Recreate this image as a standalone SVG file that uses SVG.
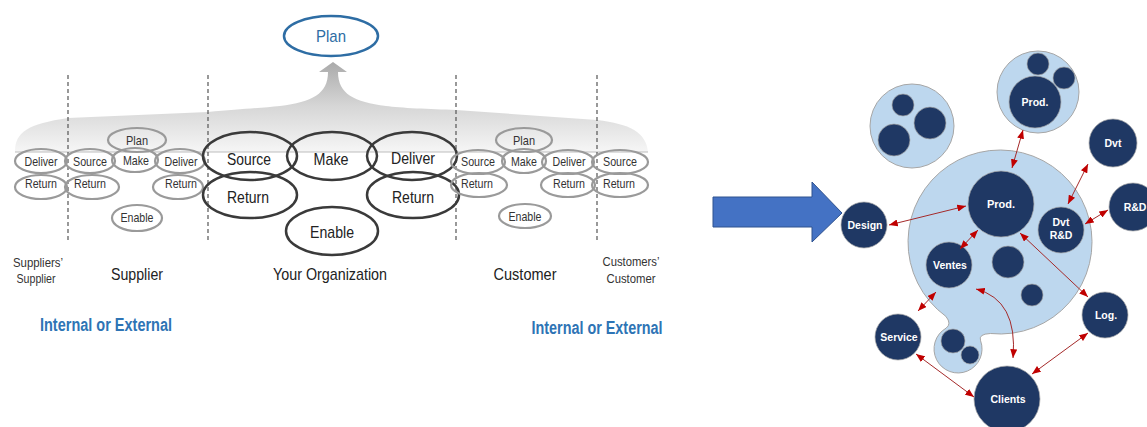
<svg xmlns="http://www.w3.org/2000/svg" width="1147" height="427" viewBox="0 0 1147 427">
<defs>
<linearGradient id="band" gradientUnits="userSpaceOnUse" x1="0" y1="60" x2="0" y2="152">
<stop offset="0" stop-color="#a8a8a8"/>
<stop offset="0.5" stop-color="#d6d6d6"/>
<stop offset="1" stop-color="#f6f6f6"/>
</linearGradient>
<marker id="ah" viewBox="0 0 10 8" refX="10" refY="4" markerWidth="9" markerHeight="7" markerUnits="userSpaceOnUse" orient="auto-start-reverse">
<path d="M0,0 L10,4 L0,8 Z" fill="#c00000"/>
</marker>
</defs>
<style>
.g{fill:none;stroke:#9a9a9a;stroke-width:2.2}
.k{fill:none;stroke:#3a3a3a;stroke-width:2.5}
.ts{font-family:"Liberation Sans Narrow","Liberation Sans",Arial,sans-serif;font-size:13px;fill:#333;text-anchor:middle}
.tb{font-family:"Liberation Sans Narrow","Liberation Sans",Arial,sans-serif;font-size:17px;fill:#222;text-anchor:middle}
.blue{font-family:"Liberation Sans Narrow","Liberation Sans",Arial,sans-serif;font-size:17.5px;font-weight:bold;fill:#2e74b5;text-anchor:middle}
.dash{stroke:#555;stroke-dasharray:4 3;stroke-width:1.2}
.lc{fill:#bdd7ee;stroke:#a6a6a6;stroke-width:1}
.dc{fill:#1f3864;stroke:#a6a6a6;stroke-width:0.7}
.ct{font-family:"Liberation Sans",Arial,sans-serif;font-weight:bold;font-size:10.5px;fill:#fff;text-anchor:middle}
.cn{fill:none;stroke:#a52a2a;stroke-width:1;marker-start:url(#ah);marker-end:url(#ah)}
</style>
<rect width="1147" height="427" fill="#fff"/>

<!-- gray band with upward arrow -->
<path d="M15,152 C15,132 28,124 68,118 L208,112 C240,109 262,108 280,106 C312,102 328,94 328,72 L319,72 L333,62 L347,72 L338,72 C338,94 354,102 386,106 C400,108 430,109 456,110 L597,120 C630,124 646,132 648,152 Z" fill="url(#band)"/>
<line x1="15" y1="152" x2="648" y2="152" stroke="#bdbdbd" stroke-width="1"/>

<!-- dashed separators -->
<g id="separators">
<line class="dash" x1="68" y1="75" x2="68" y2="240"/>
<line class="dash" x1="208" y1="75" x2="208" y2="240"/>
<line class="dash" x1="456" y1="75" x2="456" y2="240"/>
<line class="dash" x1="597" y1="75" x2="597" y2="240"/>
</g>

<g id="plan-top">
<ellipse cx="331" cy="36" rx="47" ry="20" fill="#fff" stroke="#2e6da4" stroke-width="2.5"/>
<text x="331" y="42" class="tb" style="fill:#2e6da4" textLength="30" lengthAdjust="spacingAndGlyphs">Plan</text>
</g>

<!-- Supplier side -->
<g id="ss-deliver"><ellipse class="g" cx="41" cy="161" rx="26" ry="12"/><text class="ts" x="41" y="166" textLength="33" lengthAdjust="spacingAndGlyphs">Deliver</text></g>
<g id="ss-return"><ellipse class="g" cx="41" cy="187" rx="26" ry="12"/><text class="ts" x="41" y="188" textLength="32" lengthAdjust="spacingAndGlyphs">Return</text></g>
<g id="s-plan"><ellipse class="g" cx="137" cy="140" rx="29" ry="12"/><text class="ts" x="137" y="145" textLength="22" lengthAdjust="spacingAndGlyphs">Plan</text></g>
<g id="s-source"><ellipse class="g" cx="90" cy="161" rx="25" ry="12"/><text class="ts" x="90" y="166" textLength="34" lengthAdjust="spacingAndGlyphs">Source</text></g>
<g id="s-make"><ellipse class="g" cx="135" cy="160" rx="23" ry="12"/><text class="ts" x="136" y="165" textLength="26" lengthAdjust="spacingAndGlyphs">Make</text></g>
<g id="s-deliver"><ellipse class="g" cx="180" cy="161" rx="25" ry="12"/><text class="ts" x="181" y="166" textLength="33" lengthAdjust="spacingAndGlyphs">Deliver</text></g>
<g id="s-return1"><ellipse class="g" cx="92" cy="187" rx="27" ry="12"/><text class="ts" x="90" y="188" textLength="32" lengthAdjust="spacingAndGlyphs">Return</text></g>
<g id="s-return2"><ellipse class="g" cx="178" cy="187" rx="25" ry="12"/><text class="ts" x="181" y="188" textLength="32" lengthAdjust="spacingAndGlyphs">Return</text></g>
<g id="s-enable"><ellipse class="g" cx="137" cy="218" rx="25" ry="13"/><text class="ts" x="137" y="222" textLength="33" lengthAdjust="spacingAndGlyphs">Enable</text></g>

<!-- Your organization -->
<g id="o-source"><ellipse class="k" cx="250" cy="156" rx="47" ry="24"/><text class="tb" x="249" y="165" textLength="44" lengthAdjust="spacingAndGlyphs">Source</text></g>
<g id="o-make"><ellipse class="k" cx="332" cy="156" rx="45" ry="24"/><text class="tb" x="331" y="165" textLength="35" lengthAdjust="spacingAndGlyphs">Make</text></g>
<g id="o-deliver"><ellipse class="k" cx="412" cy="156" rx="45" ry="24"/><text class="tb" x="413" y="164" textLength="44" lengthAdjust="spacingAndGlyphs">Deliver</text></g>
<g id="o-return1"><ellipse class="k" cx="250" cy="195" rx="47" ry="23"/><text class="tb" x="248" y="203" textLength="42" lengthAdjust="spacingAndGlyphs">Return</text></g>
<g id="o-return2"><ellipse class="k" cx="413" cy="195" rx="46" ry="23"/><text class="tb" x="413" y="203" textLength="42" lengthAdjust="spacingAndGlyphs">Return</text></g>
<g id="o-enable"><ellipse class="k" cx="332" cy="231" rx="46" ry="24"/><text class="tb" x="332" y="238" textLength="44" lengthAdjust="spacingAndGlyphs">Enable</text></g>

<!-- Customer side -->
<g id="c-plan"><ellipse class="g" cx="524" cy="140" rx="28" ry="12"/><text class="ts" x="524" y="145" textLength="22" lengthAdjust="spacingAndGlyphs">Plan</text></g>
<g id="c-source"><ellipse class="g" cx="478" cy="162" rx="27" ry="12"/><text class="ts" x="478" y="166" textLength="34" lengthAdjust="spacingAndGlyphs">Source</text></g>
<g id="c-make"><ellipse class="g" cx="524" cy="161" rx="22" ry="12"/><text class="ts" x="524" y="166" textLength="26" lengthAdjust="spacingAndGlyphs">Make</text></g>
<g id="c-deliver"><ellipse class="g" cx="568" cy="162" rx="26" ry="12"/><text class="ts" x="569" y="166" textLength="33" lengthAdjust="spacingAndGlyphs">Deliver</text></g>
<g id="c-return1"><ellipse class="g" cx="479" cy="185" rx="28" ry="12"/><text class="ts" x="477" y="188" textLength="32" lengthAdjust="spacingAndGlyphs">Return</text></g>
<g id="c-return2"><ellipse class="g" cx="568" cy="185" rx="27" ry="12"/><text class="ts" x="569" y="188" textLength="32" lengthAdjust="spacingAndGlyphs">Return</text></g>
<g id="c-enable"><ellipse class="g" cx="525" cy="216" rx="26" ry="12"/><text class="ts" x="525" y="221" textLength="33" lengthAdjust="spacingAndGlyphs">Enable</text></g>
<g id="cc-source"><ellipse class="g" cx="620" cy="162" rx="28" ry="12"/><text class="ts" x="620" y="166" textLength="34" lengthAdjust="spacingAndGlyphs">Source</text></g>
<g id="cc-return"><ellipse class="g" cx="620" cy="185" rx="28" ry="12"/><text class="ts" x="619" y="188" textLength="32" lengthAdjust="spacingAndGlyphs">Return</text></g>

<!-- labels -->
<g id="labels">
<text class="ts" x="38" y="267" textLength="50" lengthAdjust="spacingAndGlyphs">Suppliers’</text>
<text class="ts" x="36" y="283" textLength="39" lengthAdjust="spacingAndGlyphs">Supplier</text>
<text class="tb" x="137" y="280" textLength="52" lengthAdjust="spacingAndGlyphs">Supplier</text>
<text class="tb" x="330" y="280" textLength="114" lengthAdjust="spacingAndGlyphs">Your Organization</text>
<text class="tb" x="525" y="280" textLength="63" lengthAdjust="spacingAndGlyphs">Customer</text>
<text class="ts" x="631" y="266" textLength="57" lengthAdjust="spacingAndGlyphs">Customers’</text>
<text class="ts" x="631" y="283" textLength="49" lengthAdjust="spacingAndGlyphs">Customer</text>
<text class="blue" x="106" y="331" textLength="132" lengthAdjust="spacingAndGlyphs">Internal or External</text>
<text class="blue" x="597" y="334" textLength="131" lengthAdjust="spacingAndGlyphs">Internal or External</text>
</g>

<!-- blue arrow -->
<g id="big-arrow">
<path d="M713,197 L812,197 L812,182 L842,213 L812,242 L812,227 L713,227 Z" fill="#4472c4" stroke="#2f528f" stroke-width="1"/>
</g>

<!-- right side -->
<g id="cluster-main">
<path class="lc" d="M945.9,316.4 A92,92 0 1 1 990.4,333.5 Q978,334 980.6,340.8 A24,24 0 1 1 946,328.2 Q952,324 945.9,316.4 Z"/>
<circle class="dc" cx="953" cy="341" r="12"/>
<circle class="dc" cx="970" cy="355" r="9"/>
<circle class="dc" cx="1008" cy="262" r="16"/>
<circle class="dc" cx="1032" cy="295" r="11"/>
</g>
<g id="cluster-left">
<circle class="lc" cx="912" cy="126" r="42"/>
<circle class="dc" cx="903" cy="105" r="11"/>
<circle class="dc" cx="930" cy="123" r="16"/>
<circle class="dc" cx="894" cy="140" r="16"/>
</g>
<g id="cluster-top">
<circle class="lc" cx="1038" cy="92" r="41"/>
<circle class="dc" cx="1038" cy="64" r="11"/>
<circle class="dc" cx="1064" cy="78" r="11"/>
<circle class="dc" cx="1035" cy="102" r="26"/>
<text class="ct" x="1035" y="106">Prod.</text>
</g>
<g id="prod"><circle class="dc" cx="1001" cy="204" r="33"/><text class="ct" x="1001" y="208" style="font-size:11px">Prod.</text></g>
<g id="dvt"><circle class="dc" cx="1113" cy="143" r="24"/><text class="ct" x="1113" y="147">Dvt</text></g>
<g id="rd"><circle class="dc" cx="1133" cy="207" r="24"/><text class="ct" x="1135" y="211">R&amp;D</text></g>
<g id="design"><circle class="dc" cx="864" cy="225" r="23"/><text class="ct" x="865" y="229">Design</text></g>
<g id="dvtrd"><circle class="dc" cx="1061" cy="230" r="23"/><text class="ct" x="1061" y="226">Dvt</text><text class="ct" x="1061" y="239">R&amp;D</text></g>
<g id="ventes"><circle class="dc" cx="949" cy="265" r="23"/><text class="ct" x="950" y="269">Ventes</text></g>
<g id="log"><circle class="dc" cx="1105" cy="315" r="23"/><text class="ct" x="1106" y="319">Log.</text></g>
<g id="service"><circle class="dc" cx="898" cy="337" r="23"/><text class="ct" x="899" y="341">Service</text></g>
<g id="clients"><circle class="dc" cx="1007" cy="399" r="33"/><text class="ct" x="1008" y="403">Clients</text></g>

<g id="connectors">
<path class="cn" d="M1023,130 L1012,168"/>
<path class="cn" d="M1088,164 L1068,204"/>
<path class="cn" d="M1108,210 L1085,224"/>
<path class="cn" d="M889,225 L966,206"/>
<path class="cn" d="M978,230 L960,249"/>
<path class="cn" d="M1020,233 L1088,297"/>
<path class="cn" d="M976,289 Q1018,300 1013,358"/>
<path class="cn" d="M936,292 L918,311"/>
<path class="cn" d="M916,354 L974,397"/>
<path class="cn" d="M1088,333 L1032,374"/>
</g>
</svg>
